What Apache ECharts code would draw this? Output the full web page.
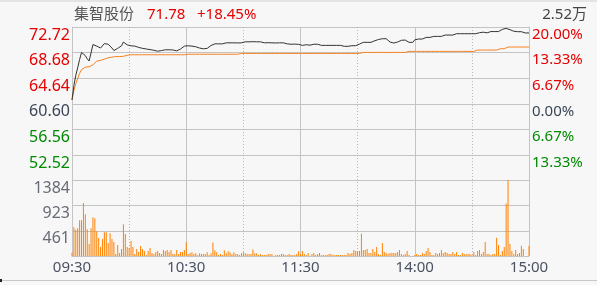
<!DOCTYPE html>
<html><head><meta charset="utf-8">
<script src="https://cdn.jsdelivr.net/npm/echarts@6/dist/echarts.min.js"></script>
<style>html,body{margin:0;padding:0;background:#f7f7f7}#c{width:597px;height:285px}</style>
</head><body><div id="c"></div>
<script>
const stockName = '集智股份';
const lastPriceText = '71.78';
const changePctText = '+18.45%';
const volMaxText = '2.52万';
const preClose = 60.60;

// minute categories 09:30-11:30, 13:01-15:00
const times = [];
for (let m = 9 * 60 + 30; m <= 11 * 60 + 30; m++) times.push(String(Math.floor(m / 60)).padStart(2, '0') + ':' + String(m % 60).padStart(2, '0'));
for (let m = 13 * 60 + 1; m <= 15 * 60; m++) times.push(String(Math.floor(m / 60)).padStart(2, '0') + ':' + String(m % 60).padStart(2, '0'));

const price = [
61.20,63.50,65.10,66.30,67.60,68.70,68.80,68.20,67.70,67.35,
67.45,69.95,70.00,69.70,69.40,69.40,69.45,70.10,70.30,70.00,
69.75,69.40,69.00,69.15,69.35,69.40,69.75,70.35,70.05,69.90,
69.85,69.75,69.70,69.70,69.60,69.50,69.40,69.35,69.35,69.25,
69.20,69.15,69.10,69.05,68.90,68.90,68.95,69.00,69.10,69.12,
69.12,69.12,69.12,69.10,69.00,68.95,69.10,69.25,69.50,69.70,
69.80,69.76,69.76,69.70,69.60,69.60,69.50,69.40,69.30,69.28,
69.25,69.35,69.50,69.80,69.95,70.06,70.06,70.06,70.08,70.06,
70.10,70.22,70.22,70.22,70.24,70.22,70.22,70.20,70.22,70.22,
70.24,70.38,70.38,70.38,70.38,70.40,70.38,70.38,70.36,70.38,
70.22,70.22,70.22,70.24,70.22,70.22,70.22,70.20,70.22,70.22,
70.22,70.22,70.06,70.06,70.00,70.00,70.00,70.02,70.00,69.98,
69.82,69.82,69.92,69.92,69.92,69.85,70.00,70.00,70.00,70.00,
70.00,69.82,69.82,69.82,69.82,69.82,69.82,69.82,69.82,69.82,
69.82,69.82,69.67,69.67,69.67,69.67,69.67,69.77,69.77,69.77,
70.03,70.03,70.30,70.30,70.30,70.30,70.30,70.30,70.40,70.55,
70.66,70.75,70.82,70.87,70.98,70.87,70.56,70.35,70.19,70.19,
70.30,70.35,70.56,70.62,70.66,70.66,70.56,70.30,70.25,70.30,
70.70,70.82,70.82,70.82,70.82,71.08,71.08,71.08,71.08,71.08,
71.24,71.24,71.24,71.24,71.24,71.24,71.45,71.45,71.45,71.45,
71.45,71.66,71.66,71.66,71.66,71.66,71.66,71.66,71.66,71.66,
71.66,71.66,71.66,71.82,71.82,71.82,71.90,72.03,71.80,71.72,
72.00,72.00,72.00,72.00,72.00,72.30,72.35,72.40,72.50,72.45,
72.30,72.20,72.05,71.98,71.98,71.98,71.98,71.78,71.78,71.78,
71.78
];

const avgPrice = [
61.20,62.70,63.80,64.60,65.40,66.00,66.27,66.38,66.40,66.45,
66.55,66.75,67.00,67.33,67.40,67.45,67.60,67.65,67.70,67.86,
67.90,67.97,68.02,68.05,68.05,68.05,68.05,68.10,68.18,68.25,
68.25,68.34,68.34,68.34,68.34,68.34,68.34,68.34,68.34,68.34,
68.34,68.34,68.34,68.34,68.34,68.34,68.34,68.34,68.34,68.34,
68.34,68.34,68.34,68.34,68.34,68.34,68.34,68.34,68.34,68.34,
68.42,68.42,68.42,68.42,68.42,68.42,68.42,68.42,68.42,68.42,
68.42,68.42,68.42,68.42,68.42,68.42,68.42,68.42,68.42,68.42,
68.42,68.42,68.42,68.42,68.42,68.42,68.42,68.42,68.55,68.55,
68.55,68.55,68.55,68.55,68.55,68.55,68.55,68.55,68.55,68.55,
68.55,68.55,68.55,68.55,68.55,68.55,68.55,68.55,68.55,68.55,
68.55,68.55,68.55,68.55,68.55,68.55,68.55,68.55,68.55,68.55,
68.55,68.55,68.55,68.55,68.55,68.55,68.55,68.55,68.55,68.55,
68.55,68.55,68.55,68.55,68.55,68.55,68.55,68.55,68.55,68.55,
68.55,68.55,68.55,68.55,68.55,68.55,68.55,68.55,68.55,68.55,
68.55,68.55,68.71,68.71,68.71,68.71,68.71,68.71,68.71,68.71,
68.71,68.71,68.71,68.71,68.71,68.71,68.71,68.71,68.71,68.71,
68.71,68.71,68.71,68.71,68.71,68.71,68.87,68.87,68.87,68.87,
68.87,68.87,68.87,68.87,68.87,68.87,68.87,68.87,68.87,68.87,
68.87,68.87,68.87,68.87,68.87,68.87,68.87,68.87,68.87,68.87,
68.87,68.87,68.87,68.87,68.87,68.87,68.87,68.87,68.87,68.87,
68.87,68.87,68.87,69.08,69.08,69.08,69.08,69.08,69.08,69.08,
69.08,69.08,69.08,69.08,69.08,69.29,69.29,69.29,69.29,69.56,
69.56,69.56,69.56,69.56,69.56,69.56,69.56,69.56,69.56,69.56,
69.56
];

const volume = [
60,526,478,508,653,653,970,762,490,218,
508,708,690,454,327,163,309,436,436,236,
417,309,254,36,200,54,127,581,400,163,
145,272,163,36,127,73,182,127,91,18,
91,145,54,36,73,91,54,36,109,91,
109,73,109,36,36,109,36,73,73,109,
250,36,54,67,36,48,18,48,36,36,
36,67,18,48,248,103,67,18,36,18,
103,48,85,67,36,67,36,36,18,48,
67,48,36,36,36,121,48,48,18,36,
18,18,18,36,36,36,0,18,18,18,
36,36,18,18,36,18,18,18,36,85,
36,91,36,18,54,0,36,54,18,36,
54,18,18,18,18,36,36,18,18,18,
18,18,18,18,18,54,36,54,109,91,
91,91,405,109,109,127,54,54,127,73,
163,36,18,236,73,54,36,54,54,54,
54,73,109,36,18,36,91,18,0,0,
18,37,18,18,55,37,92,148,74,18,
18,55,37,55,111,55,74,55,37,37,
74,37,74,18,18,55,37,37,37,37,
18,74,18,92,111,37,74,258,37,37,
18,37,37,332,203,18,92,166,959,1390,
221,92,37,111,37,55,185,129,0,0,
185
];

const FONT = '"Noto Sans", "Noto Sans CJK SC", sans-serif';
const RED = '#e60000', GREEN = '#008a00', NEUTRAL = '#3a4658', GRAY = '#666b76', GRIDC = '#c4c4c4';

function priceColor(v) {
  if (v > preClose + 0.005) return RED;
  if (v < preClose - 0.005) return GREEN;
  return NEUTRAL;
}

function xAxisDef(grid, solid, showLabel) {
  return {
    gridIndex: grid, type: 'category', data: times, boundaryGap: false,
    axisLine: { show: showLabel && solid, lineStyle: { color: GRIDC } },
    axisTick: { show: false },
    axisLabel: {
      show: showLabel && solid, interval: (i) => i % 60 === 0,
      fontSize: 15, fontFamily: FONT, color: '#4a5263', margin: 4
    },
    splitLine: {
      show: true, interval: solid ? (i) => i % 60 === 0 : (i) => i % 60 === 30,
      lineStyle: solid ? { color: GRIDC, width: 1 } : { color: '#b8b8b8', width: 1, type: [1, 2] }
    }
  };
}

const chart = echarts.init(document.getElementById('c'), null, { renderer: 'canvas' });
chart.setOption({
  animation: false,
  backgroundColor: '#f7f7f7',
  grid: [
    { left: 72, right: 68, top: 27, height: 128 },
    { left: 72, right: 68, top: 155, height: 101 }
  ],
  xAxis: [xAxisDef(0, true, false), xAxisDef(0, false, false), xAxisDef(1, true, true), xAxisDef(1, false, true)],
  yAxis: [
    {
      gridIndex: 0, type: 'value', min: 52.52, max: 72.72, interval: 4.04, position: 'left',
      axisLine: { show: true, lineStyle: { color: GRIDC } }, axisTick: { show: false },
      splitLine: { show: true, lineStyle: { color: GRIDC } },
      axisLabel: { fontSize: 16, fontFamily: FONT, margin: 2, verticalAlign: 'top',
        formatter: (v) => v.toFixed(2), color: (v) => priceColor(Number(v)) }
    },
    {
      gridIndex: 0, type: 'value', min: 52.52, max: 72.72, interval: 4.04, position: 'right',
      axisLine: { show: true, lineStyle: { color: GRIDC } }, axisTick: { show: false },
      splitLine: { show: false },
      axisLabel: { fontSize: 15, fontFamily: FONT, margin: 3, verticalAlign: 'top',
        formatter: (v) => Math.abs((v - preClose) / preClose * 100).toFixed(2) + '%',
        color: (v) => priceColor(Number(v)) }
    },
    {
      gridIndex: 1, type: 'value', min: 0, max: 1845.3333, interval: 461.3333, position: 'left',
      axisLine: { show: true, lineStyle: { color: GRIDC } }, axisTick: { show: false },
      splitLine: { show: true, lineStyle: { color: GRIDC } },
      axisLabel: { fontSize: 16, fontFamily: FONT, margin: 2, verticalAlign: 'top', color: GRAY,
        formatter: (v) => (v < 1 || v > 1800) ? '' : String(Math.round(v)) }
    }
  ],
  series: [
    { type: 'line', name: 'price', xAxisIndex: 0, yAxisIndex: 0, data: price, symbol: 'none',
      lineStyle: { color: '#333333', width: 1 }, z: 3 },
    { type: 'line', name: 'avg', xAxisIndex: 0, yAxisIndex: 0, data: avgPrice, symbol: 'none',
      lineStyle: { color: '#f58220', width: 1 }, z: 2 },
    { type: 'bar', name: 'volume', xAxisIndex: 2, yAxisIndex: 2, data: volume, barWidth: 1,
      itemStyle: { color: '#ff8000' } }
  ],
  graphic: [
    { type: 'rect', left: 0, top: 0, shape: { width: 597, height: 2 }, style: { fill: '#e4e4e4' } },
    { type: 'rect', left: 0, top: 280, shape: { width: 597, height: 1 }, style: { fill: '#c8c8c8' } },
    { type: 'rect', left: 0, top: 279, shape: { width: 2, height: 3 }, style: { fill: '#222' } },
    { type: 'text', x: 74, y: 15, style: { text: stockName, fill: '#555', font: '15px ' + FONT, verticalAlign: 'middle' } },
    { type: 'text', x: 147, y: 15, style: { text: lastPriceText, fill: RED, font: '15px ' + FONT, verticalAlign: 'middle' } },
    { type: 'text', x: 197, y: 15, style: { text: changePctText, fill: RED, font: '15px ' + FONT, verticalAlign: 'middle' } },
    { type: 'text', x: 587, y: 15, style: { text: volMaxText, fill: '#444', font: '15px ' + FONT, align: 'right', verticalAlign: 'middle' } }
  ]
});
</script>
</body></html>
